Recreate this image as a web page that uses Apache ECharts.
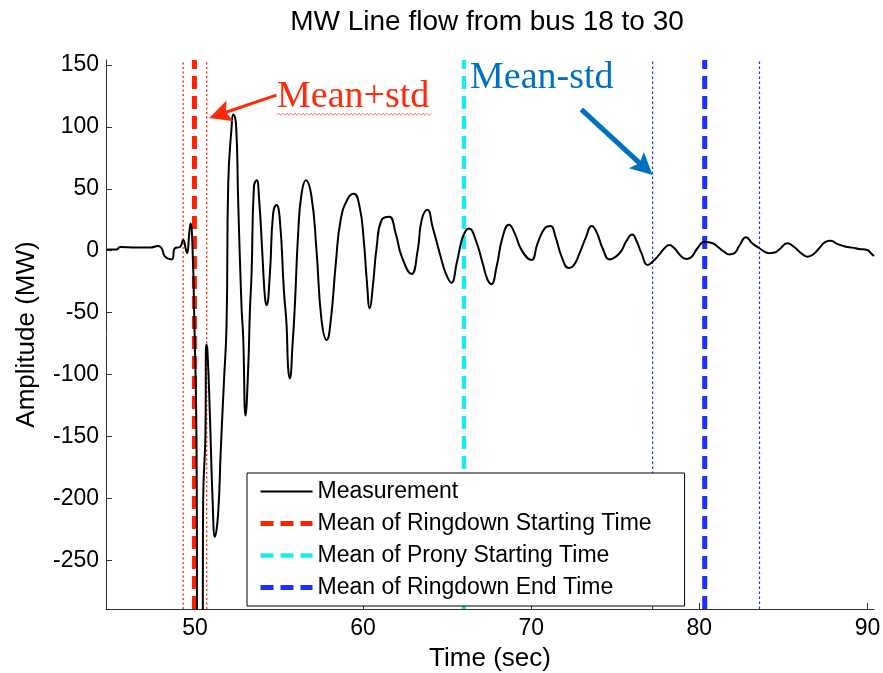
<!DOCTYPE html>
<html>
<head>
<meta charset="utf-8">
<script src="https://cdn.jsdelivr.net/npm/echarts@6/dist/echarts.min.js"></script>
<style>
  html, body { margin: 0; padding: 0; background: #fff; }
  #chart { width: 883px; height: 673px; }
</style>
</head>
<body>
<div id="chart"></div>
<script>
// Measured MW flow on the line from bus 18 to bus 30
const timeSec = [
  44.75, 45.35, 45.54, 46.54, 47.33, 47.82, 48.02, 48.22, 48.62, 48.81,
  49.11, 49.30, 49.47, 49.54, 49.66, 49.74, 49.85, 49.97, 50.09, 50.15,
  50.45, 50.49, 50.62, 50.67, 50.74, 50.89, 51.05, 51.19, 51.38, 51.53,
  51.72, 51.88, 51.98, 52.18, 52.28, 52.44, 52.57, 52.77, 52.87, 53.01,
  53.17, 53.27, 53.37, 53.51, 53.67, 53.82, 54.02, 54.16, 54.26, 54.46,
  54.65, 54.85, 55.05, 55.29, 55.45, 55.54, 55.64, 55.81, 55.94, 56.14,
  56.34, 56.60, 56.93, 57.23, 57.53, 57.84, 58.08, 58.38, 58.67, 59.09,
  59.45, 59.80, 60.04, 60.22, 60.40, 60.58, 60.81, 61.11, 61.55, 61.94,
  62.30, 62.88, 63.25, 63.49, 63.83, 64.14, 64.56, 64.91, 65.25, 65.57,
  65.87, 66.10, 66.30, 66.70, 67.11, 67.41, 67.63, 67.94, 68.30, 68.68,
  69.02, 69.43, 70.01, 70.38, 70.80, 71.14, 71.45, 71.81, 72.24, 72.52,
  72.88, 73.23, 73.61, 73.89, 74.25, 74.66, 75.02, 75.37, 75.67, 76.01,
  76.26, 76.56, 76.93, 77.21, 77.63, 77.93, 78.22, 78.52, 78.82, 79.22,
  79.53, 79.89, 80.31, 80.80, 81.20, 81.49, 81.79, 82.09, 82.38, 82.78,
  83.15, 83.57, 84.16, 84.46, 84.75, 85.24, 85.64, 86.06, 86.43, 86.77,
  87.13, 87.48, 87.82, 88.19, 88.71, 89.08, 89.50, 89.99, 90.21, 90.39
];
const flowMW = [
  1, 1, 3, 2.5, 2.5, 3.8, 2, -4.8, -7, 2,
  3, 8.6, 0.5, -2, 14, 22, 5, -60, -150, -330,
  -330, -201, -150, -76, -80, -133, -201, -231, -212, -163,
  -107, -60, 54, 100, 110, 103, 41, -45, -70, -133,
  -94, -48, -18, 52, 57, 41, -5, -37, -44, -18,
  30, 37, 25, -32, -60, -94, -103, -75, -45, 14,
  46, 57, 44, 0.5, -56, -72, -56, -10, 25, 42,
  46, 35, 8.6, -23.6, -46.5, -29, 3, 25, 27.5, 14,
  -4.8, -18.8, 0.5, 25, 33, 19, -2, -18, -25.8, -10,
  8.6, 16, 18, 8.6, -10, -23.6, -27, -13, 11, 21,
  14, 0.5, -7.5, 6, 18, 20, 11, -4.8, -14, -12,
  -2, 10, 20, 15, 2, -7, -5, 0, 8, 13,
  8, -2, -11.5, -9, -3, 2, 4.6, 2, -3, -6.7,
  -5, 2, 7.3, 6, 2, -1, -3, -2, 4, 10.8,
  6, 2, -2, -1.5, 1, 6, 3, -2, -4.8, -3,
  2, 7, 8.1, 5.5, 3.2, 2.5, 1.4, 0.6, -2, -4.3
];

// Estimated event times (sec): mean and mean -/+ one standard deviation
const ringdownStartMean = 49.97;
const ringdownStartStd = [49.30, 50.70];
const pronyStartMean = 66.0;
const ringdownEndMean = 80.32;
const ringdownEndStd = [77.22, 83.58];

// Axis extents and tick marks
const xRange = [44.71, 90.39];
const yRange = [-289.3, 154];
const xTicks = [50, 60, 70, 80, 90];
const yTicks = [-250, -200, -150, -100, -50, 0, 50, 100, 150];

const legendNames = [
  'Measurement',
  'Mean of Ringdown Starting Time',
  'Mean of Prony Starting Time',
  'Mean of Ringdown End Time'
];

const SANS = '"Liberation Sans", Arial, Helvetica, sans-serif';
const SERIF = '"Liberation Serif", "Times New Roman", serif';
const RED = '#ff2200', CYAN = '#14eeee', BLUE = '#1a30ff';

function vertical(t) { return [[t, yRange[0]], [t, yRange[1]]]; }

function markerSeries(name, t, color, width, dash, z) {
  return {
    name: name,
    type: 'line',
    data: vertical(t),
    symbol: 'none',
    silent: true,
    z: z,
    itemStyle: { color: color },
    lineStyle: { color: color, width: width, type: dash }
  };
}

const chart = echarts.init(document.getElementById('chart'), null, { renderer: 'canvas' });

const option = {
  animation: false,
  backgroundColor: '#ffffff',
  title: {
    text: 'MW Line flow from bus 18 to 30',
    left: 487,
    top: 8,
    padding: 0,
    textAlign: 'center',
    textStyle: { fontFamily: SANS, fontSize: 28, fontWeight: 'normal', color: '#000' }
  },
  grid: { left: 106, right: 9, top: 60, bottom: 64, containLabel: false, outerBoundsMode: 'none' },
  legend: {
    data: legendNames,
    orient: 'vertical',
    left: 247,
    top: 473,
    itemWidth: 52,
    itemHeight: 14,
    itemGap: 9,
    padding: [7, 33, 7, 11],
    borderColor: '#000',
    borderWidth: 1,
    backgroundColor: '#fff',
    selectedMode: false,
    itemStyle: { color: 'rgba(0,0,0,0)', borderWidth: 0, opacity: 0 },
    lineStyle: { width: 'inherit' },
    textStyle: { fontFamily: SANS, fontSize: 23, color: '#000' }
  },
  xAxis: {
    type: 'value',
    min: xRange[0],
    max: xRange[1],
    name: 'Time (sec)',
    nameLocation: 'middle',
    nameGap: 37,
    nameTextStyle: { fontFamily: SANS, fontSize: 26, color: '#000' },
    axisLine: { show: true, onZero: false, lineStyle: { color: '#333', width: 1 } },
    axisTick: { show: true, inside: true, length: 6, customValues: xTicks, lineStyle: { color: '#333' } },
    axisLabel: { customValues: xTicks, fontFamily: SANS, fontSize: 23, color: '#000', margin: 8 },
    splitLine: { show: false }
  },
  yAxis: {
    type: 'value',
    min: yRange[0],
    max: yRange[1],
    name: 'Amplitude (MW)',
    nameLocation: 'middle',
    nameGap: 66,
    nameTextStyle: { fontFamily: SANS, fontSize: 26, color: '#000' },
    axisLine: { show: true, onZero: false, lineStyle: { color: '#333', width: 1 } },
    axisTick: { show: true, inside: true, length: 6, customValues: yTicks, lineStyle: { color: '#333' } },
    axisLabel: { customValues: yTicks, fontFamily: SANS, fontSize: 23, color: '#000', margin: 7 },
    splitLine: { show: false }
  },
  series: [
    markerSeries('Ringdown start - std', ringdownStartStd[0], RED, 1.3, [2, 2.5], 2),
    markerSeries('Ringdown start + std', ringdownStartStd[1], RED, 1.3, [2, 2.5], 2),
    markerSeries('Ringdown end - std', ringdownEndStd[0], BLUE, 1.2, [2.5, 2.5], 2),
    markerSeries('Ringdown end + std', ringdownEndStd[1], BLUE, 1.2, [2.5, 2.5], 2),
    markerSeries(legendNames[1], ringdownStartMean, RED, 5, [13, 7], 3),
    markerSeries(legendNames[2], pronyStartMean, CYAN, 4.3, [13, 7], 3),
    markerSeries(legendNames[3], ringdownEndMean, BLUE, 5, [13, 7], 3),
    {
      name: legendNames[0],
      type: 'line',
      data: timeSec.map((t, i) => [t, flowMW[i]]),
      symbol: 'none',
      smooth: 0.5,
      clip: true,
      silent: true,
      z: 5,
      itemStyle: { color: '#000' },
      lineStyle: { color: '#000', width: 2 }
    }
  ]
};

chart.setOption(option);

// Callout arrows and their labels, anchored in data coordinates
const toPx = (p) => chart.convertToPixel({ gridIndex: 0 }, p);

function arrow(fromData, toData, color, width) {
  const a = toPx(fromData), b = toPx(toData);
  const dx = b[0] - a[0], dy = b[1] - a[1], len = Math.hypot(dx, dy);
  const ux = dx / len, uy = dy / len, nx = -uy, ny = ux;
  const headLen = 22, half = 11;
  const bx = b[0] - ux * headLen, by = b[1] - uy * headLen;
  const kx = b[0] - ux * headLen * 0.8, ky = b[1] - uy * headLen * 0.8;
  return [
    { type: 'line', silent: true, z: 20,
      shape: { x1: a[0], y1: a[1], x2: kx, y2: ky },
      style: { stroke: color, lineWidth: width } },
    { type: 'polygon', silent: true, z: 20,
      shape: { points: [b, [bx + nx * half, by + ny * half], [kx, ky], [bx - nx * half, by - ny * half]] },
      style: { fill: color } }
  ];
}

const squiggle = [];
for (let x = 277, k = 0; x <= 431; x += 2, k++) squiggle.push([x, k % 2 ? 113.2 : 115.4]);

chart.setOption({
  graphic: [
    ...arrow([54.85, 125.7], [ringdownStartStd[1] + 0.15, 107.2], '#ff2a0a', 3),
    ...arrow([72.98, 114.2], [ringdownEndStd[0], 61.1], '#0070c0', 5),
    { type: 'text', x: 277, y: 97, silent: true, z: 21,
      style: { text: 'Mean+std', fill: '#ff2a0a', font: '38px ' + SERIF, verticalAlign: 'middle' } },
    { type: 'polyline', silent: true, z: 21,
      shape: { points: squiggle },
      style: { stroke: '#ff7070', lineWidth: 1, fill: null } },
    { type: 'text', x: 470, y: 78, silent: true, z: 21,
      style: { text: 'Mean-std', fill: '#0070c0', font: '38px ' + SERIF, verticalAlign: 'middle' } }
  ]
});
</script>
</body>
</html>
